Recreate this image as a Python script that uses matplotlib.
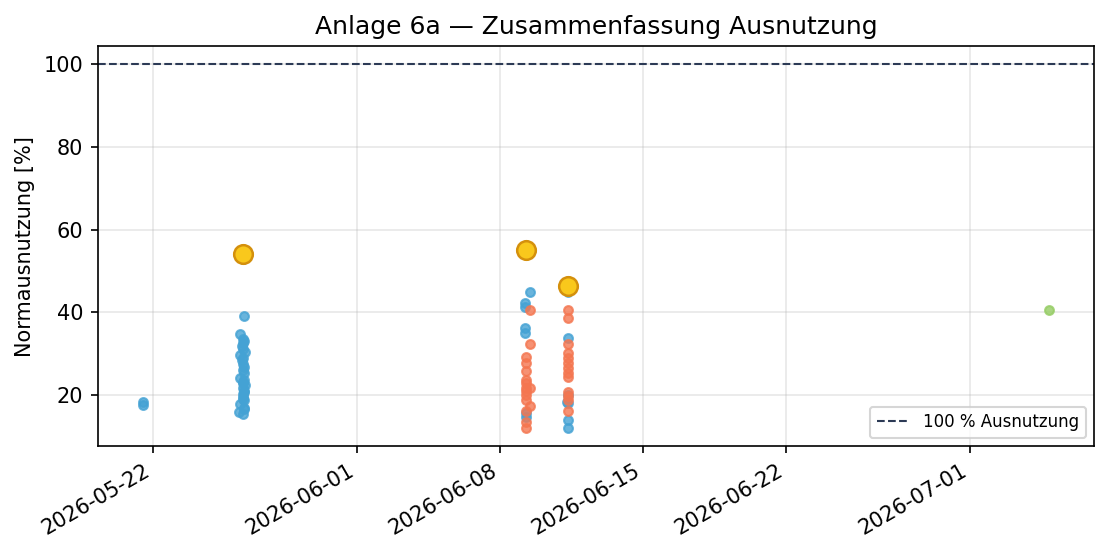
import pandas as pd
import matplotlib
matplotlib.use("Agg")
import matplotlib.pyplot as plt

# blue series (Anlage 6a, Bauteil A)
blue_times = [
    "2026-05-21 12:00", "2026-05-21 12:00",
    "2026-05-26 10:00", "2026-05-26 11:00", "2026-05-26 06:00", "2026-05-26 10:00",
    "2026-05-26 11:00", "2026-05-26 09:00", "2026-05-26 08:00", "2026-05-26 10:00",
    "2026-05-26 06:00", "2026-05-26 12:00", "2026-05-26 08:00", "2026-05-26 10:00",
    "2026-05-26 11:00", "2026-05-26 10:00", "2026-05-26 06:00", "2026-05-26 11:00",
    "2026-05-26 10:00", "2026-05-26 12:00", "2026-05-26 10:00", "2026-05-26 11:00",
    "2026-05-26 10:00", "2026-05-26 10:00", "2026-05-26 06:00", "2026-05-26 11:00",
    "2026-05-26 05:00", "2026-05-26 11:00", "2026-05-26 09:00",
    "2026-05-26 11:00", "2026-05-26 10:00", "2026-05-26 11:00", "2026-05-26 10:00",
    "2026-05-26 11:00", "2026-05-26 10:00",
    "2026-06-09 11:00", "2026-06-09 05:30", "2026-06-09 05:30", "2026-06-09 05:30",
    "2026-06-09 05:30", "2026-06-09 06:00", "2026-06-09 06:00",
    "2026-06-11 07:00", "2026-06-11 07:00", "2026-06-11 07:00", "2026-06-11 07:00",
    "2026-06-11 06:00", "2026-06-11 07:00", "2026-06-11 07:00",
]
blue_vals = [
    18.3, 17.6,
    52.8, 39.1, 34.7, 33.6, 33.1, 32.6, 31.8, 31.1,
    29.6, 30.4, 28.4, 27.5, 26.8, 26.0, 24.1, 25.3,
    23.1, 22.4, 21.7, 21.0, 20.2, 19.5, 17.7, 18.8,
    15.9, 16.5, 15.3,
    23.7, 22.8, 20.6, 19.0, 16.9, 28.9,
    44.8, 42.3, 41.2, 36.3, 35.0, 15.6, 14.7,
    45.0, 33.8, 20.0, 18.0, 18.2, 14.0, 12.0,
]

# orange series (Bauteil B)
orange_times = [
    "2026-06-09 11:00", "2026-06-09 11:00", "2026-06-09 06:00", "2026-06-09 06:00",
    "2026-06-09 06:00", "2026-06-09 06:00", "2026-06-09 06:00", "2026-06-09 11:00",
    "2026-06-09 06:00", "2026-06-09 06:00", "2026-06-09 06:00", "2026-06-09 06:00",
    "2026-06-09 11:00", "2026-06-09 06:00", "2026-06-09 06:00", "2026-06-09 06:00",
    "2026-06-11 07:00", "2026-06-11 07:00", "2026-06-11 07:00", "2026-06-11 07:00",
    "2026-06-11 07:00", "2026-06-11 07:00", "2026-06-11 07:00", "2026-06-11 07:00",
    "2026-06-11 07:00", "2026-06-11 07:00", "2026-06-11 07:00", "2026-06-11 07:00",
    "2026-06-11 07:00",
]
orange_vals = [
    40.5, 32.3, 29.2, 27.7, 25.8, 23.6, 22.9, 21.6,
    21.7, 21.0, 20.0, 18.8, 17.3, 16.2, 13.5, 12.0,
    40.5, 38.7, 32.3, 30.2, 29.0, 27.7, 26.5, 25.3,
    24.4, 20.7, 19.8, 18.8, 16.1,
]

# green series (Bauteil C)
green_times = ["2026-07-04 21:00"]
green_vals = [40.5]

# maximum per date
max_times = ["2026-05-26 10:00", "2026-06-09 06:00", "2026-06-11 07:00"]
max_vals = [54.2, 55.1, 46.4]

fig, ax = plt.subplots(figsize=(7.4, 3.7), dpi=150)

ax.scatter(pd.to_datetime(blue_times), blue_vals, s=18, color="#44a2d4", alpha=0.8, zorder=3)
ax.scatter(pd.to_datetime(orange_times), orange_vals, s=18, color="#f47650", alpha=0.8, zorder=3)
ax.scatter(pd.to_datetime(green_times), green_vals, s=18, color="#94cc62", alpha=0.8, zorder=3)
ax.scatter(pd.to_datetime(max_times), max_vals, s=80, color="#f9c81c", edgecolor="#d4900c",
           linewidth=1.2, zorder=4)

ax.axhline(100, color="#2c3a55", linestyle="--", linewidth=1, label="100 % Ausnutzung")

ax.set_title("Anlage 6a \u2014 Zusammenfassung Ausnutzung", fontsize=12)
ax.set_ylabel("Normausnutzung [%]", fontsize=10)
ax.grid(True, alpha=0.3)
ax.legend(loc="lower right", fontsize=8)
fig.autofmt_xdate()

fig.subplots_adjust(left=0.088, right=0.986, top=0.917, bottom=0.196)
fig.savefig("out.png", dpi=150)
